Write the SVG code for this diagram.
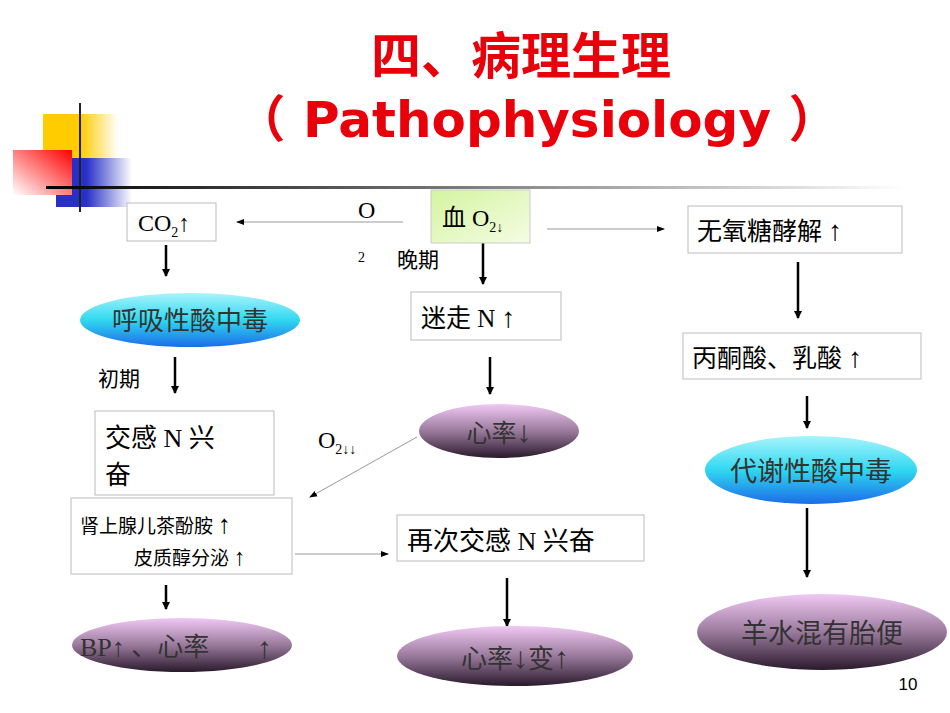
<svg xmlns="http://www.w3.org/2000/svg" width="950" height="713" viewBox="0 0 950 713">
<defs>
<linearGradient id="pur" x1="0" y1="0" x2="0" y2="1"><stop offset="0" stop-color="#f0c8f4"/><stop offset="0.5" stop-color="#9a7a9c"/><stop offset="1" stop-color="#2a1a2c"/></linearGradient>
<linearGradient id="cy" x1="0" y1="0" x2="0" y2="1"><stop offset="0" stop-color="#a8f4fc"/><stop offset="0.5" stop-color="#30d8f0"/><stop offset="1" stop-color="#1c6ce8"/></linearGradient>
<linearGradient id="grn" x1="0" y1="0" x2="1" y2="1"><stop offset="0" stop-color="#d4f4a0"/><stop offset="1" stop-color="#f4fce4"/></linearGradient>
<linearGradient id="hl" x1="0" y1="0" x2="1" y2="0"><stop offset="0" stop-color="#000"/><stop offset="1" stop-color="#fff"/></linearGradient>
<linearGradient id="yel" x1="0" y1="0" x2="1" y2="0"><stop offset="0.5" stop-color="#ffcc00"/><stop offset="1" stop-color="#fff"/></linearGradient>
<linearGradient id="blu" x1="0" y1="0" x2="1" y2="0"><stop offset="0.4" stop-color="#2830c8"/><stop offset="1" stop-color="#fff"/></linearGradient>
<linearGradient id="red" x1="1" y1="0" x2="0" y2="1"><stop offset="0" stop-color="#ff0000"/><stop offset="1" stop-color="#fff"/></linearGradient>
<marker id="ab" markerWidth="8" markerHeight="8" refX="7" refY="4" orient="auto" markerUnits="userSpaceOnUse"><path d="M0,0 L8,4 L0,8 Z" fill="#000"/></marker>
<marker id="as" markerWidth="8" markerHeight="8" refX="7" refY="4" orient="auto" markerUnits="userSpaceOnUse"><path d="M0,1 L8,4 L0,7 Z" fill="#000"/></marker>
<style>
.t{font-family:"Liberation Serif","Noto Sans CJK SC",serif;fill:#000}
.e{fill:#333}
.b{fill:#fff;stroke:#bbb;stroke-width:1}
.thk{stroke:#000;stroke-width:2.5;marker-end:url(#ab)}
.thn{stroke:#999;stroke-width:1;marker-end:url(#as)}
.ti{font-family:"DejaVu Sans","Noto Sans CJK SC",sans-serif;font-weight:bold;fill:#e8000a}
</style>
</defs>
<rect width="950" height="713" fill="#fff"/>
<g id="deco">
<rect x="43" y="114" width="75" height="46" fill="url(#yel)"/>
<rect x="56" y="158" width="76" height="49" fill="url(#blu)"/>
<rect x="13" y="150" width="59" height="45" fill="url(#red)"/>
<line x1="80" y1="103" x2="80" y2="212" stroke="#222" stroke-width="2"/>
<rect x="46" y="186" width="860" height="3" fill="url(#hl)"/>
</g>
<text class="ti" x="521" y="74" font-size="50" text-anchor="middle">四、病理生理</text>
<text class="ti" x="537" y="137" font-size="50" text-anchor="middle">（ Pathophysiology ）</text>
<g id="connectors">
<line class="thn" x1="403" y1="222" x2="237" y2="222"/>
<line class="thn" x1="547" y1="229" x2="664" y2="229"/>
<line class="thk" x1="166" y1="245" x2="166" y2="276"/>
<line class="thk" x1="483" y1="243" x2="483" y2="284"/>
<line class="thk" x1="175" y1="357" x2="175" y2="393"/>
<line class="thk" x1="490" y1="357" x2="490" y2="394"/>
<line class="thk" x1="160" y1="472" x2="160" y2="489"/>
<line class="thn" x1="417" y1="437" x2="310" y2="497"/>
<line class="thn" x1="295" y1="554" x2="388" y2="554"/>
<line class="thk" x1="507" y1="578" x2="507" y2="626"/>
<line class="thk" x1="166" y1="585" x2="166" y2="609"/>
<line class="thk" x1="798" y1="262" x2="798" y2="318"/>
<line class="thk" x1="807" y1="396" x2="807" y2="428"/>
<line class="thk" x1="807" y1="508" x2="807" y2="577"/>
</g>
<g id="co2"><rect class="b" x="127" y="203" width="89" height="38"/><text class="t" x="138" y="231" font-size="24">CO<tspan font-size="14" dy="6">2</tspan><tspan dy="-6">↑</tspan></text></g>
<g id="blood"><rect x="431" y="190" width="99" height="53" fill="url(#grn)" stroke="#ccc"/><text class="t" x="442" y="226" font-size="24">血 O<tspan font-size="14" dy="6">2↓</tspan></text></g>
<g id="anaer"><rect class="b" x="688" y="206" width="214" height="47"/><text class="t" x="697" y="240" font-size="25">无氧糖酵解 <tspan font-size="28">↑</tspan></text></g>
<text class="t" x="358" y="218" font-size="24">O</text>
<text class="t" x="358" y="262" font-size="14">2</text>
<text class="t" x="397" y="267" font-size="21">晚期</text>
<g id="resp"><ellipse cx="190" cy="320" rx="110" ry="27" fill="url(#cy)"/><text class="t e" x="190" y="330" font-size="26" text-anchor="middle">呼吸性酸中毒</text></g>
<g id="vagus"><rect class="b" x="411" y="292" width="150" height="48"/><text class="t" x="421" y="327" font-size="25">迷走 N <tspan font-size="28">↑</tspan></text></g>
<text class="t" x="98" y="386" font-size="21">初期</text>
<g id="symp"><rect class="b" x="95" y="411" width="179" height="84"/><text class="t" x="105" y="447" font-size="26">交感 N 兴</text><text class="t" x="105" y="484" font-size="26">奋</text></g>
<g id="hr1"><ellipse cx="499" cy="431" rx="80" ry="27" fill="url(#pur)"/><text class="t e" x="499" y="442" font-size="25" text-anchor="middle">心率<tspan font-size="30">↓</tspan></text></g>
<text class="t" x="318" y="448" font-size="24">O<tspan font-size="14" dy="6">2↓↓</tspan></text>
<g id="adrenal"><rect class="b" x="71" y="498" width="221" height="76"/><text class="t" x="80" y="533" font-size="19">肾上腺儿茶酚胺 <tspan font-size="26">↑</tspan></text><text class="t" x="134" y="565" font-size="19">皮质醇分泌 <tspan font-size="24">↑</tspan></text></g>
<g id="symp2"><rect class="b" x="397" y="515" width="247" height="46"/><text class="t" x="407" y="550" font-size="26">再次交感 N 兴奋</text></g>
<g id="hr2"><ellipse cx="515" cy="656" rx="118" ry="30" fill="url(#pur)"/><text class="t e" x="515" y="668" font-size="26" text-anchor="middle">心率<tspan font-size="30">↓</tspan>变<tspan font-size="30">↑</tspan></text></g>
<g id="bp"><ellipse cx="182" cy="645" rx="110" ry="27" fill="url(#pur)"/><text class="t e" x="80" y="656" font-size="26">BP↑ 、心率</text><text class="t e" x="257" y="658" font-size="30">↑</text></g>
<g id="pyr"><rect class="b" x="683" y="333" width="238" height="46"/><text class="t" x="692" y="367" font-size="25">丙酮酸、乳酸 <tspan font-size="28">↑</tspan></text></g>
<g id="metab"><ellipse cx="811" cy="470" rx="106" ry="34" fill="url(#cy)"/><text class="t e" x="811" y="481" font-size="27" text-anchor="middle">代谢性酸中毒</text></g>
<g id="amn"><ellipse cx="822" cy="632" rx="125" ry="38" fill="url(#pur)"/><text class="t e" x="822" y="643" font-size="27" text-anchor="middle">羊水混有胎便</text></g>
<text x="908" y="690" font-size="17" font-family="Liberation Sans,sans-serif" text-anchor="middle">10</text>
</svg>
